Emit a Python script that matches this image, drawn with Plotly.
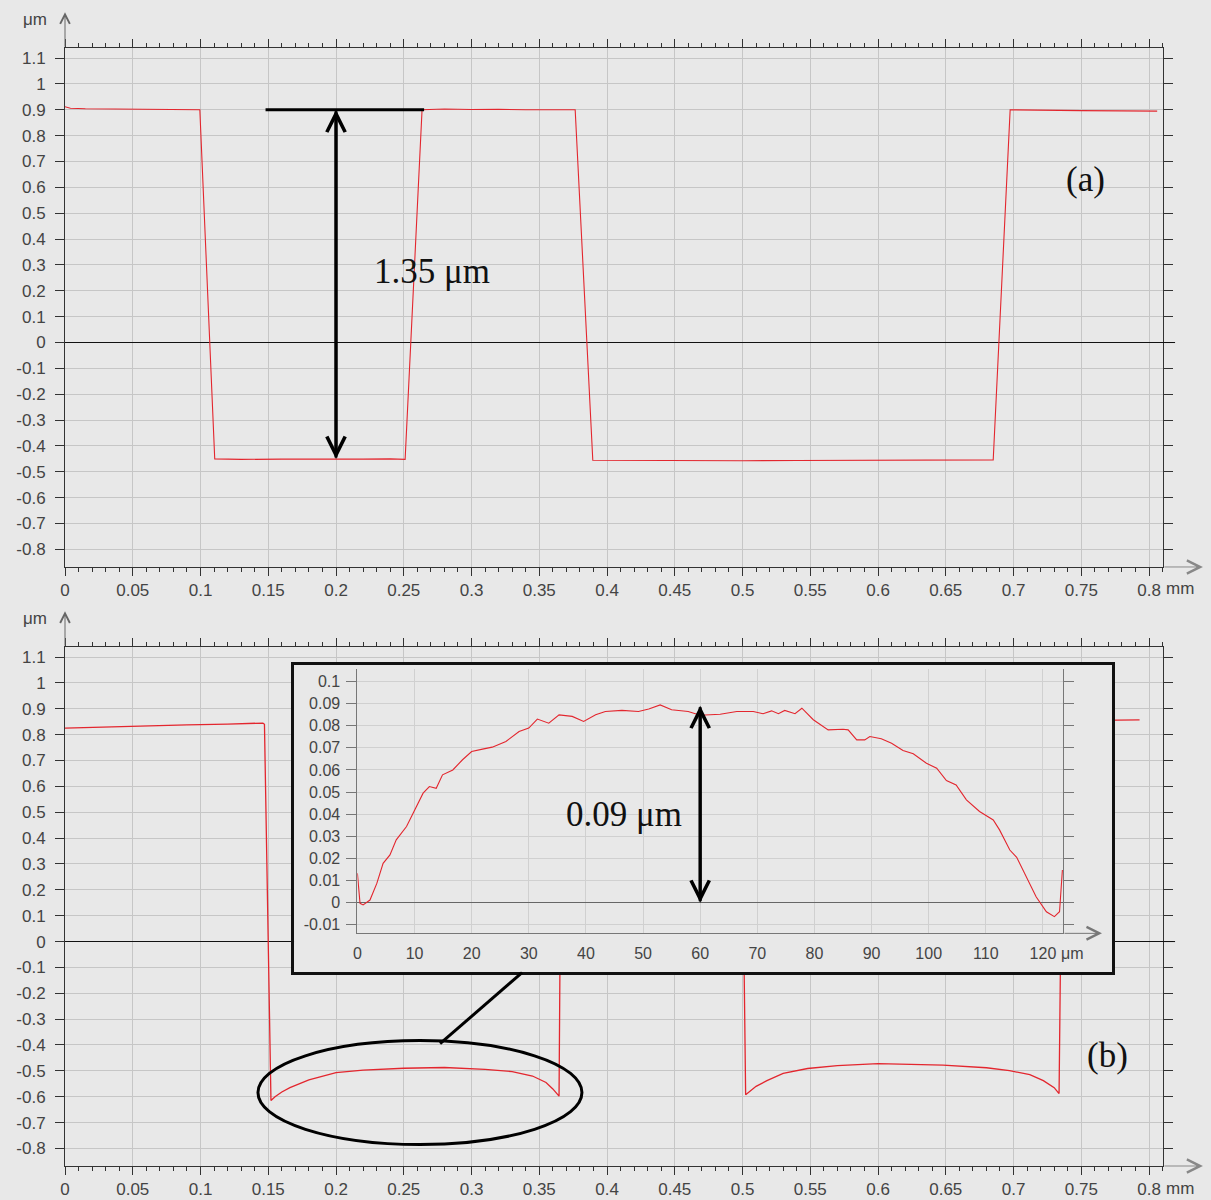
import plotly.graph_objects as go

# ---------------- data ----------------
# panel (a): surface profile, x in mm, height in um
a_x = [0, 0.004, 0.015, 0.03, 0.05, 0.07, 0.09, 0.0995, 0.1105, 0.13, 0.16, 0.19, 0.22, 0.24, 0.251,
       0.2635, 0.28, 0.3, 0.32, 0.34, 0.36, 0.3765, 0.3895, 0.42, 0.46, 0.5, 0.54, 0.58, 0.62, 0.66,
       0.685, 0.6975, 0.72, 0.75, 0.78, 0.806]
a_y = [0.912, 0.906, 0.904, 0.903, 0.902, 0.901, 0.901, 0.900, -0.450, -0.452, -0.451, -0.452, -0.451,
       -0.450, -0.452, 0.900, 0.903, 0.901, 0.902, 0.900, 0.901, 0.900, -0.455, -0.456, -0.457, -0.457,
       -0.456, -0.456, -0.455, -0.455, -0.454, 0.900, 0.898, 0.897, 0.896, 0.895]

# panel (b)
b_x = [0, 0.03, 0.06, 0.09, 0.12, 0.146, 0.1472, 0.152, 0.155, 0.16, 0.166, 0.18, 0.2, 0.22, 0.25,
       0.28, 0.31, 0.33, 0.345, 0.355, 0.36, 0.3646, 0.3665, 0.40, 0.45, 0.4990, 0.5023, 0.51, 0.518,
       0.53, 0.548, 0.57, 0.6, 0.648, 0.68, 0.697, 0.712, 0.722, 0.73, 0.7336, 0.7365, 0.76, 0.793]
b_y = [0.825, 0.830, 0.834, 0.838, 0.841, 0.845, 0.840, -0.615, -0.600, -0.582, -0.565, -0.535,
       -0.507, -0.497, -0.490, -0.487, -0.494, -0.503, -0.520, -0.545, -0.570, -0.598, 0.850, 0.852,
       0.853, 0.852, -0.592, -0.560, -0.538, -0.510, -0.491, -0.480, -0.472, -0.478, -0.488, -0.499,
       -0.515, -0.538, -0.565, -0.588, 0.850, 0.855, 0.857]

# inset: zoomed profile, x in um, height in um
c_x = [0, 0.46, 1.0, 2.2, 3.4, 4.5, 5.7, 6.8, 8.6, 10.0, 11.5, 12.6, 13.8, 14.9, 16.7, 18.4, 20.0,
       21.9, 23.6, 26.0, 28.3, 30.0, 31.5, 33.5, 35.3, 37.6, 39.6, 41.7, 43.4, 46.3, 49.2, 51.0, 53.0,
       55.0, 57.9, 60.0, 63.5, 66.4, 69.3, 71.0, 72.5, 73.7, 74.8, 76.6, 77.8, 79.8, 82.4, 85.0, 85.9,
       87.4, 88.8, 89.7, 91.7, 93.5, 95.5, 97.3, 99.6, 101.4, 103.1, 104.8, 106.6, 108.9, 111.3, 112.4,
       114.2, 115.4, 117.1, 118.8, 120.6, 122.0, 122.9, 123.4]
c_y = [0.0133, -0.0003, -0.001, 0.0012, 0.0087, 0.0178, 0.0216, 0.0284, 0.0344, 0.0419, 0.0495,
       0.0525, 0.0517, 0.0578, 0.0600, 0.0646, 0.0683, 0.0694, 0.0703, 0.0729, 0.0774, 0.0789, 0.0830,
       0.0811, 0.0849, 0.0842, 0.0819, 0.0849, 0.0864, 0.0869, 0.0864, 0.0875, 0.0894, 0.0872, 0.0864,
       0.0847, 0.0852, 0.0864, 0.0864, 0.0854, 0.0867, 0.0854, 0.0869, 0.0854, 0.0879, 0.0827, 0.0781,
       0.0784, 0.0781, 0.0736, 0.0736, 0.0751, 0.0741, 0.0721, 0.0688, 0.0673, 0.0630, 0.0608, 0.0552,
       0.0532, 0.0465, 0.0412, 0.0374, 0.0329, 0.0238, 0.0205, 0.0118, 0.0027, -0.0041, -0.0063,
       -0.0041, 0.0148]

# tick labels
main_xticks = [0, 0.05, 0.1, 0.15, 0.2, 0.25, 0.3, 0.35, 0.4, 0.45, 0.5, 0.55, 0.6, 0.65, 0.7, 0.75, 0.8]
main_xtext = ["0", "0.05", "0.1", "0.15", "0.2", "0.25", "0.3", "0.35", "0.4", "0.45", "0.5",
              "0.55", "0.6", "0.65", "0.7", "0.75", "0.8"]
main_yticks = [1.1, 1.0, 0.9, 0.8, 0.7, 0.6, 0.5, 0.4, 0.3, 0.2, 0.1, 0, -0.1, -0.2, -0.3, -0.4,
               -0.5, -0.6, -0.7, -0.8]
main_ytext = ["1.1", "1", "0.9", "0.8", "0.7", "0.6", "0.5", "0.4", "0.3", "0.2", "0.1", "0",
              "-0.1", "-0.2", "-0.3", "-0.4", "-0.5", "-0.6", "-0.7", "-0.8"]
inset_xticks = [0, 10, 20, 30, 40, 50, 60, 70, 80, 90, 100, 110, 120]
inset_xtext = ["0", "10", "20", "30", "40", "50", "60", "70", "80", "90", "100", "110", "120"]
inset_yticks = [0.1, 0.09, 0.08, 0.07, 0.06, 0.05, 0.04, 0.03, 0.02, 0.01, 0, -0.01]
inset_ytext = ["0.1", "0.09", "0.08", "0.07", "0.06", "0.05", "0.04", "0.03", "0.02", "0.01", "0", "-0.01"]

# annotated measurements
step_a = {"x": 0.2, "top": 0.9, "bottom": -0.45, "bar_x0": 0.148, "bar_x1": 0.265, "label": "1.35 μm"}
dome_b = {"x": 60, "top": 0.089, "bottom": 0.0, "label": "0.09 μm"}

# ---------------- styling ----------------
BG = "#e8e8e8"
GRID = "#c6c6c6"
AX = "#333333"
RED = "#e3262e"
SANS = "Liberation Sans, Arial, sans-serif"
TICKFONT = dict(family=SANS, size=17, color="#444444")
INSETFONT = dict(family=SANS, size=16, color="#444444")
SERIF = "Liberation Serif, Times New Roman, serif"

X_RANGE = [0, 0.8103]
Y_RANGE = [-0.868, 1.139]

fig = go.Figure()
fig.add_trace(go.Scatter(x=a_x, y=a_y, mode="lines", line=dict(color=RED, width=1.1),
                         xaxis="x", yaxis="y", hoverinfo="skip", showlegend=False))
fig.add_trace(go.Scatter(x=b_x, y=b_y, mode="lines", line=dict(color=RED, width=1.3),
                         xaxis="x2", yaxis="y2", hoverinfo="skip", showlegend=False))
fig.add_trace(go.Scatter(x=[None], y=[None], mode="lines", xaxis="x3", yaxis="y3",
                         hoverinfo="skip", showlegend=False))
fig.add_trace(go.Scatter(x=c_x, y=c_y, mode="lines", line=dict(color=RED, width=1.1),
                         xaxis="x4", yaxis="y4", hoverinfo="skip", showlegend=False))


def main_x(anchor):
    return dict(anchor=anchor, range=X_RANGE, tickmode="array", tickvals=main_xticks, ticktext=main_xtext,
                ticks="outside", ticklen=8, tickcolor=AX, showline=True, linecolor=AX, linewidth=1,
                mirror="ticks", showgrid=True, gridcolor=GRID, gridwidth=1, zeroline=False,
                tickfont=TICKFONT, ticklabelstandoff=0, fixedrange=True, automargin=False,
                minor=dict(tickmode="linear", tick0=0, dtick=0.01, ticks="outside", ticklen=4,
                           tickcolor=AX, showgrid=False))


def main_y(anchor, domain):
    return dict(anchor=anchor, domain=domain, range=Y_RANGE, tickmode="array", tickvals=main_yticks,
                ticktext=main_ytext, ticks="outside", ticklen=9, tickcolor=AX, showline=True,
                linecolor=AX, linewidth=1, mirror="ticks", showgrid=True, gridcolor=GRID, gridwidth=1,
                zeroline=True, zerolinecolor="#111111", zerolinewidth=1, tickfont=TICKFONT,
                ticklabelstandoff=6, fixedrange=True, automargin=False)


fig.update_layout(
    width=1211, height=1200, autosize=False,
    margin=dict(l=65, r=48, t=48, b=34, pad=0, autoexpand=False),
    paper_bgcolor=BG, plot_bgcolor=BG, showlegend=False,
    xaxis=main_x("y"),
    yaxis=main_y("x", [0.5358, 1.0]),
    xaxis2=main_x("y2"),
    yaxis2=main_y("x2", [0.0, 0.4642]),
    xaxis3=dict(anchor="y3", domain=[0.2086, 0.9536], range=[0, 1], showline=True, mirror=True,
                linecolor="#111111", linewidth=3, showgrid=False, zeroline=False, showticklabels=False,
                ticks="", fixedrange=True, automargin=False),
    yaxis3=dict(anchor="x3", domain=[0.1735, 0.4481], range=[0, 1], showline=True, mirror=True,
                linecolor="#111111", linewidth=3, showgrid=False, zeroline=False, showticklabels=False,
                ticks="", fixedrange=True, automargin=False),
    xaxis4=dict(anchor="y4", domain=[0.2663, 0.9092], range=[0, 123.56], tickmode="array",
                tickvals=inset_xticks, ticktext=inset_xtext, ticks="", showline=True, linecolor="#777777",
                linewidth=1, showgrid=True, gridcolor="#d0d0d0", zeroline=False,
                tickfont=INSETFONT, ticklabelstandoff=5, fixedrange=True, automargin=False),
    yaxis4=dict(anchor="x4", domain=[0.2081, 0.4445], range=[-0.01386, 0.1056], tickmode="array",
                tickvals=inset_yticks, ticktext=inset_ytext, ticks="outside", ticklen=10,
                tickcolor="#777777", showline=True, linecolor="#777777", linewidth=1, mirror="ticks",
                showgrid=True, gridcolor="#d0d0d0", zeroline=True, zerolinecolor="#666666",
                zerolinewidth=1, tickfont=INSETFONT, ticklabelstandoff=3, fixedrange=True,
                automargin=False),
)

shapes = []
# zero line extensions beyond right edge
for xr, yr in [("x", "y"), ("x2", "y2")]:
    shapes.append(dict(type="line", xref=xr + " domain", yref=yr,
                       x0=1, x1=1.011, y0=0, y1=0, line=dict(color="#111111", width=1)))
# measurement bar in (a)
shapes.append(dict(type="line", xref="x", yref="y", x0=step_a["bar_x0"], x1=step_a["bar_x1"],
                   y0=step_a["top"], y1=step_a["top"], line=dict(color="black", width=3)))
# ellipse and connector in (b)
shapes.append(dict(type="circle", xref="x2", yref="y2", x0=0.1424, x1=0.3815, y0=-0.785, y1=-0.383,
                   line=dict(color="black", width=3)))
shapes.append(dict(type="line", xref="x2", yref="y2", x0=0.2768, y0=-0.395, x1=0.3373, y1=-0.12,
                   line=dict(color="black", width=3)))
fig.update_layout(shapes=shapes)

ann = []


def double_arrow(xref, yref, x, y_top, y_bot, width, size):
    out = []
    for yh, yt in ((y_top, y_bot), (y_bot, y_top)):
        out.append(dict(x=x, y=yh, xref=xref, yref=yref, ax=x, ay=yt, axref=xref, ayref=yref,
                        text="", showarrow=True, arrowhead=5, arrowsize=size, arrowwidth=width,
                        arrowcolor="black", standoff=0))
    return out


ann += double_arrow("x", "y", step_a["x"], step_a["top"], step_a["bottom"], 3, 1.2)
ann += double_arrow("x4", "y4", dome_b["x"], dome_b["top"], dome_b["bottom"], 3, 1.2)

# texts
ann.append(dict(x=0.2708, y=0.2747, xref="x", yref="y", text=step_a["label"], showarrow=False,
                font=dict(family=SERIF, size=35, color="#111111")))
ann.append(dict(x=0.7528, y=0.6306, xref="x", yref="y", text="(a)", showarrow=False,
                font=dict(family=SERIF, size=35, color="#111111")))
ann.append(dict(x=0.769, y=-0.441, xref="x2", yref="y2", text="(b)", showarrow=False,
                font=dict(family=SERIF, size=35, color="#111111")))
ann.append(dict(x=46.7, y=0.0397, xref="x4", yref="y4", text=dome_b["label"], showarrow=False,
                font=dict(family=SERIF, size=35, color="#111111")))

# axis unit labels and axis arrows
for xr, yr in [("x", "y"), ("x2", "y2")]:
    ann.append(dict(x=-0.0273, y=1.054, xref=xr + " domain", yref=yr + " domain", text="μm",
                    showarrow=False, xanchor="center", yanchor="middle", font=TICKFONT))
    ann.append(dict(x=0.8, y=0, xref=xr, yref=yr + " domain", text="mm", showarrow=False,
                    xanchor="left", yanchor="middle", xshift=15, yshift=-22, font=TICKFONT))
    ann.append(dict(x=0, y=1.069, xref=xr + " domain", yref=yr + " domain", ax=0, ay=36, text="",
                    showarrow=True, arrowhead=5, arrowsize=1.9, arrowwidth=1, arrowcolor="#666666",
                    standoff=0))
    ann.append(dict(x=1.0364, y=0, xref=xr + " domain", yref=yr + " domain", ax=-40, ay=0, text="",
                    showarrow=True, arrowhead=5, arrowsize=2.6, arrowwidth=1, arrowcolor="#888888",
                    standoff=0))

ann.append(dict(x=120, y=0, xref="x4", yref="y4 domain", text="μm", showarrow=False, xanchor="left",
                yanchor="middle", xshift=16, yshift=-20, font=INSETFONT))
ann.append(dict(x=1.0548, y=0, xref="x4 domain", yref="y4 domain", ax=-39, ay=0, text="",
                showarrow=True, arrowhead=5, arrowsize=2.5, arrowwidth=1, arrowcolor="#777777",
                standoff=0))

fig.update_layout(annotations=ann)
fig.write_html("out.html")
